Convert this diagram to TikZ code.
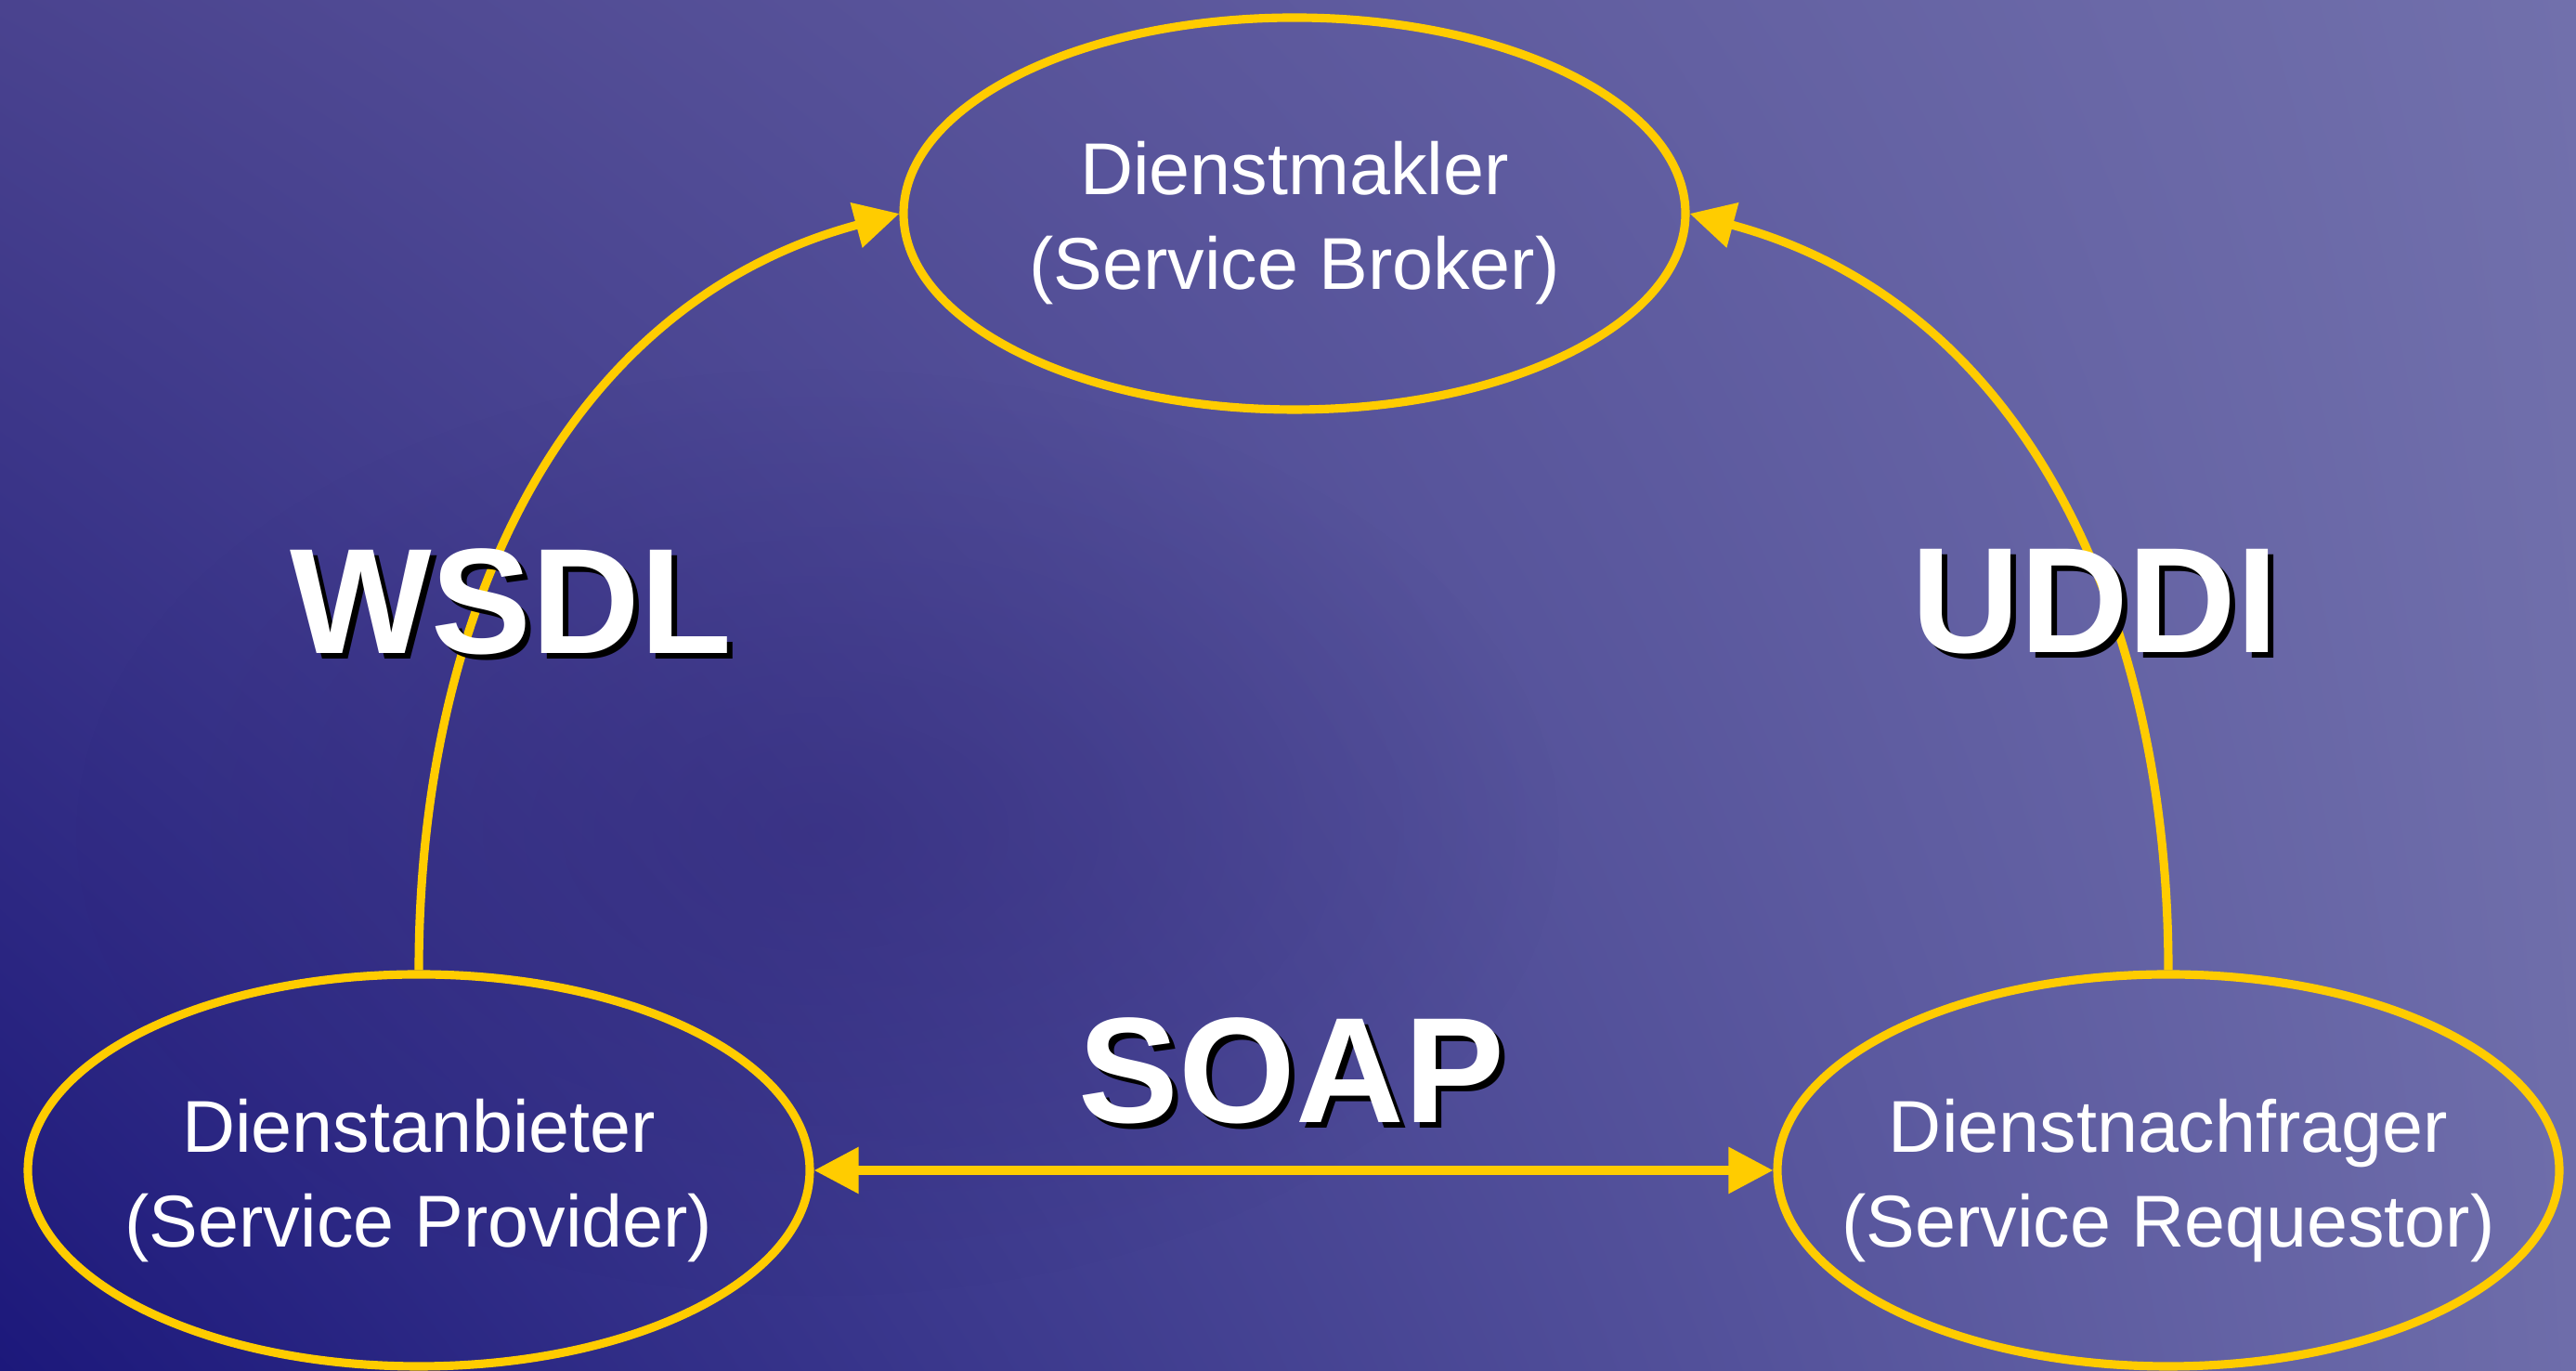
\documentclass[tikz,border=0pt]{standalone}
\usepackage{fontspec}
\setmainfont{Liberation Sans}
\usetikzlibrary{shapes.geometric,arrows.meta,shadings,fadings}
\definecolor{gold}{HTML}{FFCC00}
\definecolor{bgtl}{HTML}{4A438F}
\definecolor{bgtr}{HTML}{7170AC}
\definecolor{bgbl}{HTML}{1C187B}
\definecolor{bgbr}{HTML}{6E6DAA}
\definecolor{bgmid}{HTML}{30267A}
\tikzfading[name=softblob, inner color=transparent!0, outer color=transparent!100]
\begin{document}
\begin{tikzpicture}[
    role/.style={ellipse, draw=gold, line width=2.6pt, minimum width=8.42cm, minimum height=4.22cm, inner sep=0pt},
    roletext/.style={text=white, align=center, inner sep=0pt, font=\fontsize{22.5}{29}\selectfont},
    link/.style={draw=gold, line width=2.6pt, -{Triangle[length=0.48cm,width=0.48cm]}},
    proto/.style={font=\fontsize{46}{50}\selectfont\bfseries}
]
    % background
    \shade[upper left=bgtl, upper right=bgtr, lower left=bgbl, lower right=bgbr] (0,0) rectangle (27.74,14.76);
    \fill[bgmid, opacity=0.45, path fading=softblob] (8.8,5.8) ellipse (8cm and 5cm);
    \useasboundingbox (0,0) rectangle (27.74,14.76);

    % roles
    \node[role] (broker) at (13.94,12.46) {};
    \node[role] (provider) at (4.51,2.16) {};
    \node[role] (requestor) at (23.35,2.16) {};
    \node[roletext] (brokertext) at ([yshift=-0.1cm]broker.center) {Dienstmakler\\(Service Broker)};
    \node[roletext] (providertext) at ([yshift=-0.11cm]provider.center) {Dienstanbieter\\(Service Provider)};
    \node[roletext] (requestortext) at ([yshift=-0.11cm]requestor.center) {Dienstnachfrager\\(Service Requestor)};

    % links
    \draw[link] (provider.north) to[out=90,in=195] (broker.west);
    \draw[link] (requestor.north) to[out=90,in=-15] (broker.east);
    \draw[link, {Triangle[length=0.48cm,width=0.48cm]}-{Triangle[length=0.48cm,width=0.48cm]}] (provider.east) -- (requestor.west);

    % protocol labels with shadow
    \foreach \t/\x/\y in {WSDL/5.50/8.28, UDDI/22.56/8.28, SOAP/13.91/3.23} {
        \node[proto, text=black] at (\x+0.06,\y-0.06) {\t};
        \node[proto, text=white] (\t) at (\x,\y) {\t};
    }
\end{tikzpicture}
\end{document}
